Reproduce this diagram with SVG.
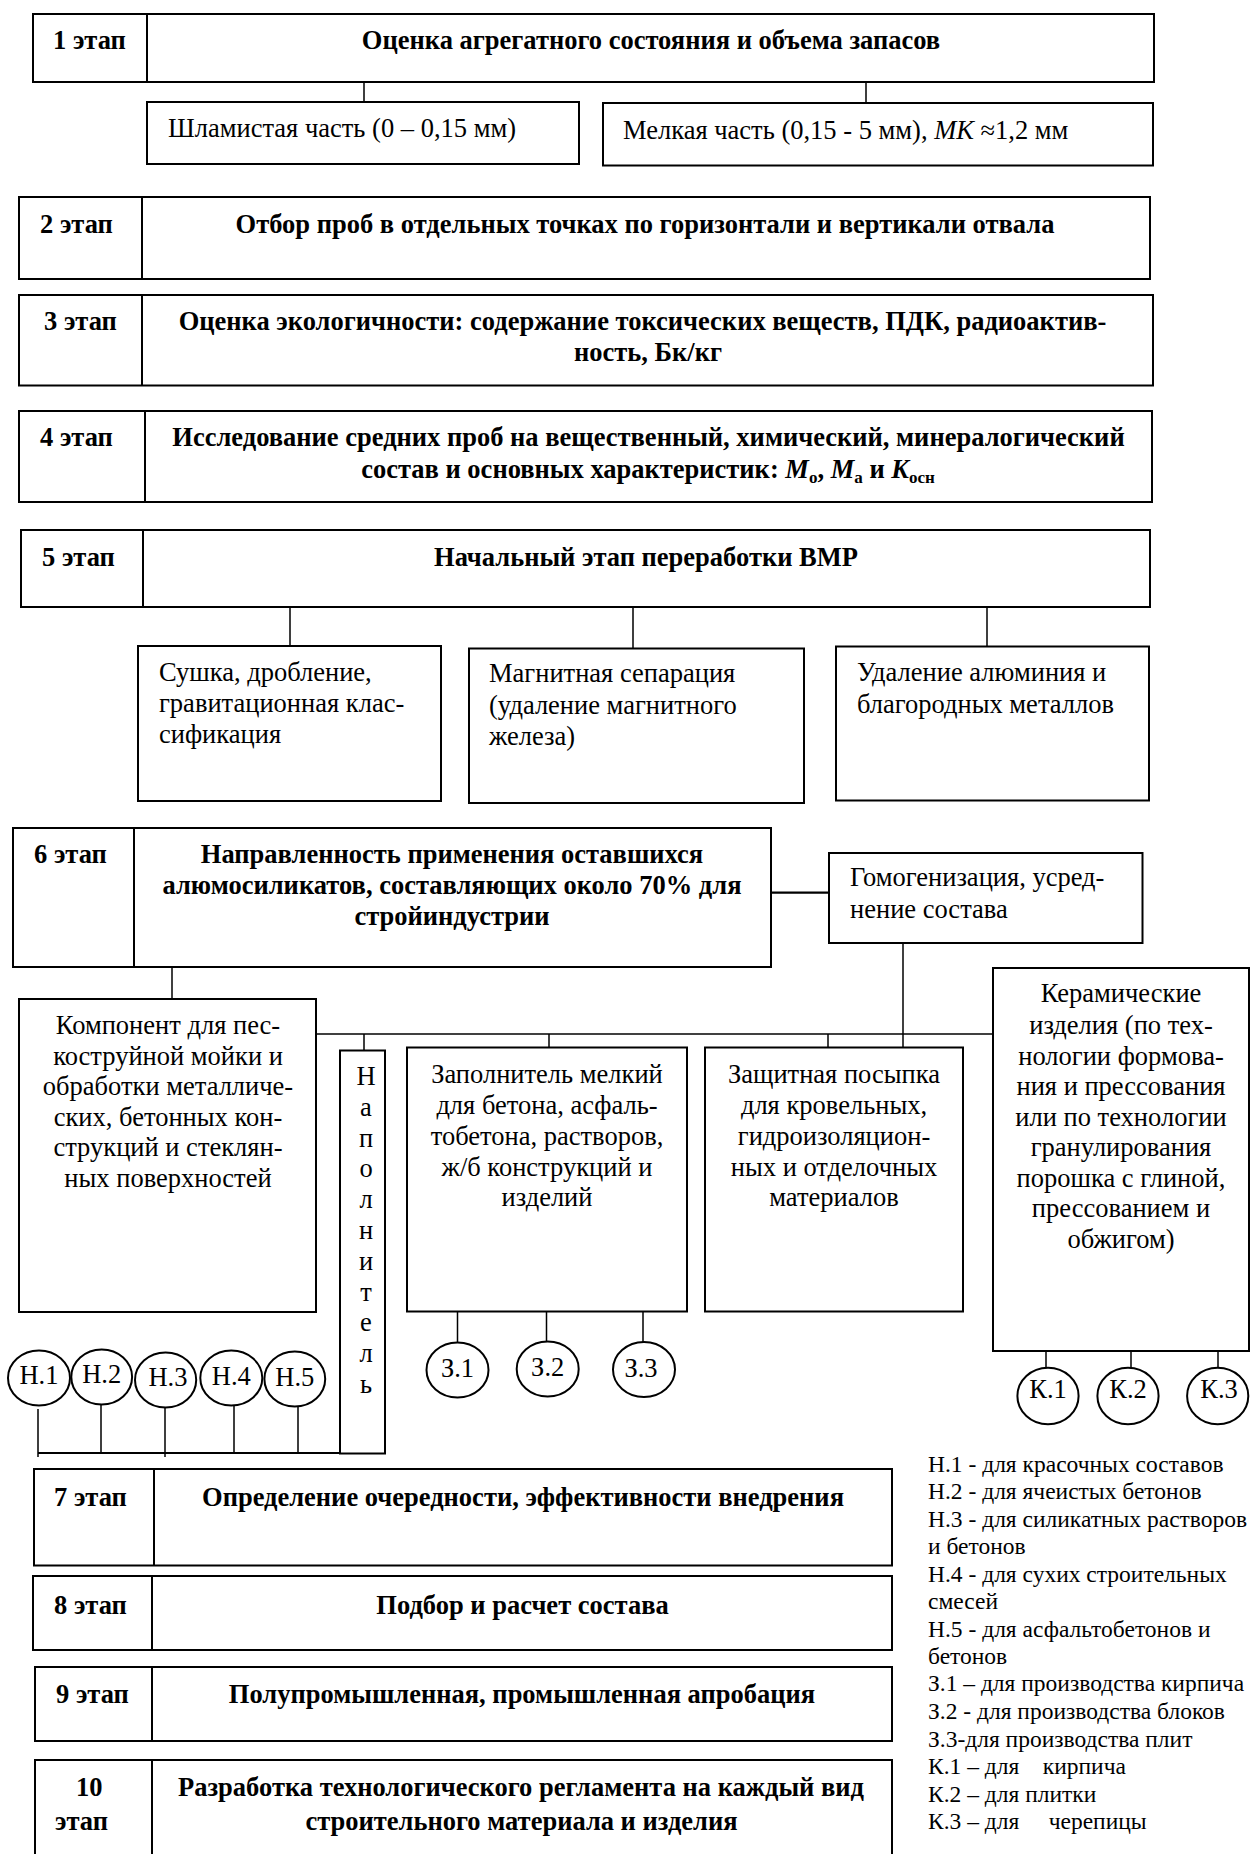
<svg xmlns="http://www.w3.org/2000/svg" width="1256" height="1854" viewBox="0 0 1256 1854">
<style>
.box{fill:#fff;stroke:#000;stroke-width:2}
.dv{stroke:#000;stroke-width:2}
.ln{stroke:#000;stroke-width:1.5;fill:none}
.lw{stroke:#000;stroke-width:2.2;fill:none}
.el{fill:#fff;stroke:#000;stroke-width:2}
text{font-family:"Liberation Serif","Times New Roman",serif;font-size:26.5px;fill:#000}
.b{font-weight:bold}
.c{text-anchor:middle}
.lg{font-size:23.5px;white-space:pre}
</style>
<rect x="0" y="0" width="1256" height="1854" fill="#fff"/>

<g id="connectors">
<path class="ln" d="M364 82V102M866 82V103"/>
<path class="ln" d="M290 607V646M633 607V648.5M987 607V646.5"/>
<path class="lw" d="M771 892.7H829"/>
<path class="ln" d="M903 943V1047.5"/>
<path class="ln" d="M172 967V999"/>
<path class="ln" d="M316 1034H993"/>
<path class="ln" d="M364 1034V1050.5M549 1034V1047.5M828 1034V1047.5"/>
<path class="ln" d="M457.5 1312V1343M546.5 1312V1342M643 1312V1342"/>
<path class="ln" d="M1046 1351V1368M1131 1351V1368M1218 1351V1368"/>
<path class="ln" d="M38 1409V1457M101 1405V1453M165 1408V1457M234 1406V1453M298 1407V1453"/>
<path class="lw" d="M38 1453H340"/>
</g>

<g id="stage1">
<rect class="box" x="33" y="14" width="1121" height="68"/>
<line class="dv" x1="147" y1="14" x2="147" y2="82"/>
<text class="b" x="53" y="49">1 этап</text>
<text class="b c" x="651" y="49">Оценка агрегатного состояния и объема запасов</text>
</g>
<g id="slime">
<rect class="box" x="147" y="102" width="432" height="62"/>
<text x="168" y="137">Шламистая часть (0 – 0,15 мм)</text>
</g>
<g id="fine">
<rect class="box" x="603" y="103" width="550" height="62.5"/>
<text x="623" y="139">Мелкая часть (0,15 - 5 мм), <tspan font-style="italic">МК</tspan> ≈1,2 мм</text>
</g>

<g id="stage2">
<rect class="box" x="19" y="197" width="1131" height="82"/>
<line class="dv" x1="142" y1="197" x2="142" y2="279"/>
<text class="b" x="40" y="233">2 этап</text>
<text class="b c" x="645" y="233">Отбор проб в отдельных точках по горизонтали и вертикали отвала</text>
</g>

<g id="stage3">
<rect class="box" x="19" y="295" width="1134" height="90.5"/>
<line class="dv" x1="142" y1="295" x2="142" y2="385.5"/>
<text class="b" x="44" y="330">3 этап</text>
<text class="b c" x="642.5" y="330">Оценка экологичности: содержание токсических веществ, ПДК, радиоактив-</text>
<text class="b c" x="648" y="361">ность, Бк/кг</text>
</g>

<g id="stage4">
<rect class="box" x="19" y="411" width="1133" height="91"/>
<line class="dv" x1="145" y1="411" x2="145" y2="502"/>
<text class="b" x="40" y="446">4 этап</text>
<text class="b c" x="648.5" y="445.5">Исследование средних проб на вещественный, химический, минералогический</text>
<text class="b c" x="648" y="478">состав и основных характеристик: <tspan font-style="italic">M</tspan><tspan font-size="17" dy="5">о</tspan><tspan dy="-5">, </tspan><tspan font-style="italic">M</tspan><tspan font-size="17" dy="5">а</tspan><tspan dy="-5"> и </tspan><tspan font-style="italic">K</tspan><tspan font-size="17" dy="5">осн</tspan></text>
</g>

<g id="stage5">
<rect class="box" x="21" y="530" width="1129" height="77"/>
<line class="dv" x1="143" y1="530" x2="143" y2="607"/>
<text class="b" x="42" y="566">5 этап</text>
<text class="b c" x="646" y="566">Начальный этап переработки ВМР</text>
</g>
<g id="drying">
<rect class="box" x="138" y="646" width="303" height="155"/>
<text x="159" y="681">Сушка, дробление,</text>
<text x="159" y="712">гравитационная клас-</text>
<text x="159" y="743">сификация</text>
</g>
<g id="magnetic">
<rect class="box" x="469" y="648.5" width="335" height="154.5"/>
<text x="489" y="682">Магнитная сепарация</text>
<text x="489" y="714">(удаление магнитного</text>
<text x="489" y="745">железа)</text>
</g>
<g id="aluminium">
<rect class="box" x="836" y="646.5" width="313" height="154"/>
<text x="857" y="681">Удаление алюминия и</text>
<text x="857" y="713">благородных металлов</text>
</g>

<g id="stage6">
<rect class="box" x="13" y="828" width="758" height="139"/>
<line class="dv" x1="134" y1="828" x2="134" y2="967"/>
<text class="b" x="34" y="863">6 этап</text>
<text class="b c" x="452" y="863">Направленность применения оставшихся</text>
<text class="b c" x="452" y="894">алюмосиликатов, составляющих около 70% для</text>
<text class="b c" x="452" y="925">стройиндустрии</text>
</g>
<g id="homog">
<rect class="box" x="829" y="853" width="313.5" height="90"/>
<text x="850" y="886">Гомогенизация, усред-</text>
<text x="850" y="918">нение состава</text>
</g>
<g id="component">
<rect class="box" x="19" y="999" width="297" height="313"/>
<text class="c" x="168" y="1034">Компонент для пес-</text>
<text class="c" x="168" y="1065">коструйной мойки и</text>
<text class="c" x="168" y="1095">обработки металличе-</text>
<text class="c" x="168" y="1126">ских, бетонных кон-</text>
<text class="c" x="168" y="1156">струкций и стеклян-</text>
<text class="c" x="168" y="1187">ных поверхностей</text>
</g>
<g id="filler">
<rect class="box" x="340" y="1050.5" width="45" height="403"/>
<text class="c" x="366" y="1085">Н</text>
<text class="c" x="366" y="1116">а</text>
<text class="c" x="366" y="1147">п</text>
<text class="c" x="366" y="1177">о</text>
<text class="c" x="366" y="1208">л</text>
<text class="c" x="366" y="1239">н</text>
<text class="c" x="366" y="1270">и</text>
<text class="c" x="366" y="1301">т</text>
<text class="c" x="366" y="1331">е</text>
<text class="c" x="366" y="1362">л</text>
<text class="c" x="366" y="1393">ь</text>
</g>
<g id="aggregate">
<rect class="box" x="407" y="1047.5" width="280" height="264"/>
<text class="c" x="547" y="1083">Заполнитель мелкий</text>
<text class="c" x="547" y="1114">для бетона, асфаль-</text>
<text class="c" x="547" y="1145">тобетона, растворов,</text>
<text class="c" x="547" y="1176">ж/б конструкций и</text>
<text class="c" x="547" y="1206">изделий</text>
</g>
<g id="dressing">
<rect class="box" x="705" y="1047.5" width="258" height="264"/>
<text class="c" x="834" y="1083">Защитная посыпка</text>
<text class="c" x="834" y="1114">для кровельных,</text>
<text class="c" x="834" y="1145">гидроизоляцион-</text>
<text class="c" x="834" y="1176">ных и отделочных</text>
<text class="c" x="834" y="1206">материалов</text>
</g>
<g id="ceramic">
<rect class="box" x="993" y="968" width="256" height="383"/>
<text class="c" x="1121" y="1002">Керамические</text>
<text class="c" x="1121" y="1034">изделия (по тех-</text>
<text class="c" x="1121" y="1065">нологии формова-</text>
<text class="c" x="1121" y="1095">ния и прессования</text>
<text class="c" x="1121" y="1126">или по технологии</text>
<text class="c" x="1121" y="1156">гранулирования</text>
<text class="c" x="1121" y="1187">порошка с глиной,</text>
<text class="c" x="1121" y="1217">прессованием и</text>
<text class="c" x="1121" y="1248">обжигом)</text>
</g>

<g id="n1"><ellipse class="el" cx="39" cy="1378" rx="31" ry="27.5"/><text class="c" x="39" y="1384">Н.1</text></g>
<g id="n2"><ellipse class="el" cx="101.7" cy="1377" rx="30.4" ry="27.5"/><text class="c" x="101.7" y="1383">Н.2</text></g>
<g id="n3"><ellipse class="el" cx="165.6" cy="1380" rx="30.6" ry="27.5"/><text class="c" x="168" y="1386">Н.3</text></g>
<g id="n4"><ellipse class="el" cx="231.3" cy="1378" rx="31" ry="27.5"/><text class="c" x="231.3" y="1385">Н.4</text></g>
<g id="n5"><ellipse class="el" cx="294.8" cy="1379" rx="30.4" ry="27.5"/><text class="c" x="294.8" y="1386">Н.5</text></g>

<g id="z1"><ellipse class="el" cx="457.5" cy="1370" rx="31" ry="27.5"/><text class="c" x="457.5" y="1377">З.1</text></g>
<g id="z2"><ellipse class="el" cx="547.7" cy="1369" rx="31" ry="27.5"/><text class="c" x="547.7" y="1376">З.2</text></g>
<g id="z3"><ellipse class="el" cx="644" cy="1369.5" rx="31" ry="27.5"/><text class="c" x="641" y="1377">З.3</text></g>

<g id="k1"><ellipse class="el" cx="1048" cy="1396" rx="30.6" ry="28.3"/><text class="c" x="1048" y="1398">К.1</text></g>
<g id="k2"><ellipse class="el" cx="1128" cy="1396" rx="30.6" ry="28.3"/><text class="c" x="1128" y="1398">К.2</text></g>
<g id="k3"><ellipse class="el" cx="1217.7" cy="1396" rx="30.6" ry="28.3"/><text class="c" x="1219" y="1398">К.3</text></g>

<g id="stage7">
<rect class="box" x="34" y="1469" width="858" height="96.5"/>
<line class="dv" x1="154" y1="1469" x2="154" y2="1565.5"/>
<text class="b" x="54" y="1506">7 этап</text>
<text class="b c" x="523" y="1506">Определение очередности, эффективности внедрения</text>
</g>
<g id="stage8">
<rect class="box" x="33" y="1576" width="859" height="74"/>
<line class="dv" x1="152" y1="1576" x2="152" y2="1650"/>
<text class="b" x="54" y="1614">8 этап</text>
<text class="b c" x="522.5" y="1614">Подбор и расчет состава</text>
</g>
<g id="stage9">
<rect class="box" x="35" y="1667" width="857" height="74"/>
<line class="dv" x1="152" y1="1667" x2="152" y2="1741"/>
<text class="b" x="56" y="1703">9 этап</text>
<text class="b c" x="522" y="1703">Полупромышленная, промышленная апробация</text>
</g>
<g id="stage10">
<rect class="box" x="35" y="1760" width="857" height="110"/>
<line class="dv" x1="152" y1="1760" x2="152" y2="1870"/>
<text class="b" x="76" y="1796">10</text>
<text class="b" x="55" y="1830">этап</text>
<text class="b c" x="521" y="1796">Разработка технологического регламента на каждый вид</text>
<text class="b c" x="521.5" y="1830">строительного материала и изделия</text>
</g>

<g id="legend">
<text class="lg" x="928" y="1472">Н.1 - для красочных составов</text>
<text class="lg" x="928" y="1499">Н.2 - для ячеистых бетонов</text>
<text class="lg" x="928" y="1526.5">Н.3 - для силикатных растворов</text>
<text class="lg" x="928" y="1553.5">и бетонов</text>
<text class="lg" x="928" y="1581.5">Н.4 - для сухих строительных</text>
<text class="lg" x="928" y="1608.5">смесей</text>
<text class="lg" x="928" y="1637">Н.5 - для асфальтобетонов и</text>
<text class="lg" x="928" y="1664">бетонов</text>
<text class="lg" x="928" y="1691">З.1 – для производства кирпича</text>
<text class="lg" x="928" y="1719">З.2 - для производства блоков</text>
<text class="lg" x="928" y="1746.5">З.3-для производства плит</text>
<text class="lg" x="928" y="1774" xml:space="preserve">К.1 – для    кирпича</text>
<text class="lg" x="928" y="1801.5">К.2 – для плитки</text>
<text class="lg" x="928" y="1829" xml:space="preserve">К.3 – для     черепицы</text>
</g>
</svg>
